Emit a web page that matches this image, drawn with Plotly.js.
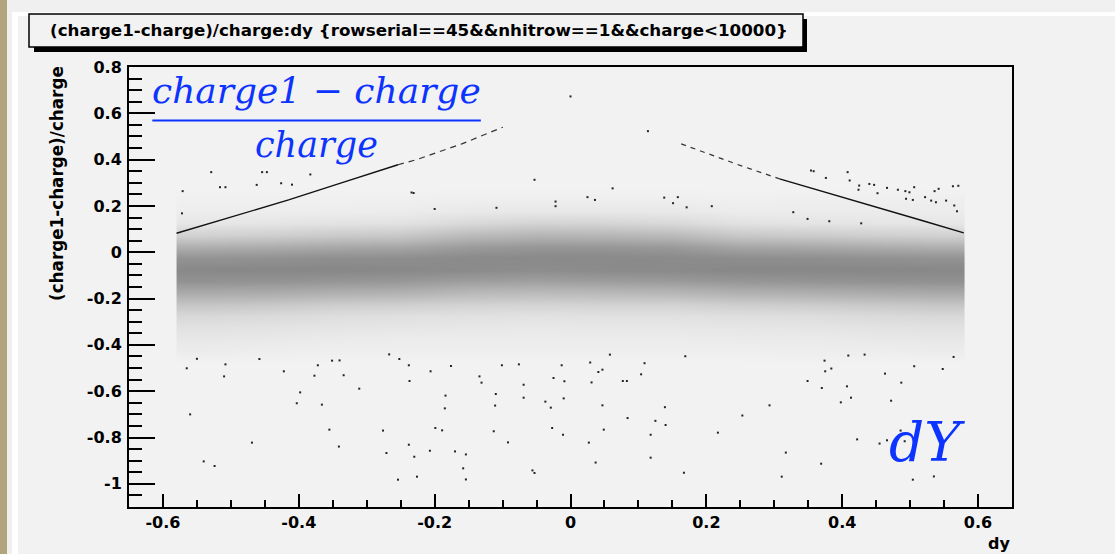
<!DOCTYPE html>
<html>
<head>
<meta charset="utf-8">
<script src="https://cdn.plot.ly/plotly-3.0.1.min.js"></script>
<style>
  html, body { margin: 0; padding: 0; background: #f0f0f0; width: 1115px; height: 554px; overflow: hidden; }
  #wrap { position: relative; width: 1115px; height: 554px; }
  .deco { position: absolute; }
  #chart { position: absolute; left: 0; top: 0; width: 1115px; height: 554px; }
</style>
</head>
<body>
<div id="wrap">
  <div class="deco" style="left:0;top:0;width:7px;height:554px;background:#b1a57d;"></div>
  <div class="deco" style="left:12px;top:12px;width:1103px;height:542px;background:#f2f2f2;"></div>
  <div class="deco" style="left:12px;top:12px;width:1103px;height:4px;background:#ffffff;"></div>
  <div class="deco" style="left:12px;top:12px;width:6px;height:542px;background:#ffffff;"></div>
  <div id="chart"></div>
</div>
<script>
// ---------------- data ----------------
// Dense band of (dy, (charge1-charge)/charge) points, given as estimated relative density per bin
const bandXEdges = [-0.58, -0.5, -0.4, -0.3, -0.2, -0.1, 0, 0.1, 0.2, 0.3, 0.4, 0.5, 0.58];
const bandYEdges = [-0.5, -0.45, -0.4, -0.35, -0.3, -0.25, -0.2, -0.15, -0.1, -0.05, 0, 0.05, 0.1, 0.15, 0.2, 0.25, 0.3];
const bandDensity = [
  [0, 0, 0, 0, 0, 0, 0, 0, 0, 0, 0, 0],
  [5, 4, 3, 3, 3, 3, 3, 3, 3, 4, 4, 5],
  [9, 8, 6, 5, 5, 5, 5, 5, 6, 6, 8, 9],
  [14, 13, 11, 10, 9, 8, 9, 9, 10, 11, 13, 14],
  [23, 21, 18, 16, 15, 14, 15, 15, 17, 18, 21, 23],
  [40, 38, 33, 31, 28, 27, 28, 28, 32, 34, 37, 40],
  [63, 62, 58, 56, 50, 48, 50, 52, 57, 59, 62, 64],
  [85, 84, 82, 80, 74, 72, 75, 77, 81, 83, 85, 86],
  [94, 95, 95, 94, 92, 90, 92, 93, 95, 95, 95, 94],
  [84, 85, 88, 89, 92, 93, 93, 92, 89, 88, 86, 84],
  [58, 60, 64, 66, 76, 80, 80, 77, 66, 64, 60, 57],
  [28, 30, 34, 36, 48, 53, 52, 48, 36, 33, 30, 28],
  [10, 11, 13, 14, 22, 27, 26, 22, 14, 12, 11, 10],
  [4, 4, 4, 5, 8, 9, 9, 8, 5, 5, 5, 5],
  [2, 2, 2, 2, 3, 3, 3, 3, 2, 3, 3, 3],
  [0, 0, 0, 0, 0, 0, 0, 0, 0, 0, 0, 0]
];

// Individual sparse points (outside the dense band)
const sparseX = [
  -0.565, -0.55, -0.508, -0.510, -0.422, -0.377, -0.372, -0.398, -0.403, -0.366, -0.334, -0.311,
  -0.56, -0.469, -0.54, -0.524, -0.355, -0.341, -0.276, -0.271, -0.238, -0.230, -0.254, -0.226,
  -0.199, -0.189, -0.207, -0.170, -0.154, -0.158, -0.154, -0.184, -0.185, -0.237, -0.238, -0.206,
  -0.176, -0.134, -0.131, -0.110, -0.111, -0.113, -0.092, -0.069, -0.069, -0.037, -0.029, -0.027,
  -0.011, -0.056, -0.053, -0.025, -0.009, -0.010, -0.013, -0.076, -0.101, -0.267, -0.252, -0.458,
  -0.340, -0.351,
  0.029, 0.041, 0.047, 0.031, 0.077, 0.083, 0.104, 0.109, 0.058, 0.047, 0.084, 0.049,
  0.027, 0.037, 0.139, 0.125, 0.140, 0.118, 0.118, 0.167, 0.169, 0.217, 0.253, 0.293,
  0.317, 0.311, 0.369, 0.349, 0.370, 0.375, 0.384, 0.374, 0.407, 0.413, 0.398, 0.422,
  0.455, 0.466, 0.486, 0.492, 0.463, 0.487, 0.472, 0.506, 0.548, 0.504, 0.535, 0.564,
  0.433, 0.409,
  0.0, 0.114, -0.053, -0.234, 0.062, 0.025, 0.036, 0.138, 0.158, 0.208, -0.022, -0.022,
  0.151, 0.171, -0.2, -0.109,
  -0.529, -0.454, -0.447, -0.516, -0.508, -0.462, -0.571, -0.426, -0.41, -0.383, -0.231, -0.572,
  0.354, 0.358, 0.376, 0.408, 0.411, 0.425, 0.424, 0.44, 0.447, 0.452, 0.466, 0.482,
  0.493, 0.499, 0.506, 0.494, 0.504, 0.522, 0.531, 0.536, 0.542, 0.563, 0.571, 0.565,
  0.569, 0.538, 0.553, 0.328, 0.349, 0.381, 0.428
];
const sparseY = [
  -0.501, -0.46, -0.484, -0.536, -0.514, -0.533, -0.488, -0.605, -0.652, -0.658, -0.531, -0.589,
  -0.70, -0.822, -0.903, -0.923, -0.766, -0.839, -0.770, -0.867, -0.831, -0.883, -0.982, -0.969,
  -0.759, -0.769, -0.857, -0.860, -0.873, -0.933, -0.981, -0.619, -0.674, -0.556, -0.488, -0.514,
  -0.491, -0.536, -0.563, -0.612, -0.662, -0.773, -0.821, -0.572, -0.628, -0.645, -0.671, -0.759,
  -0.788, -0.942, -0.953, -0.543, -0.557, -0.631, -0.488, -0.484, -0.488, -0.441, -0.461, -0.461,
  -0.467, -0.468,
  -0.476, -0.517, -0.507, -0.562, -0.556, -0.556, -0.527, -0.479, -0.442, -0.661, -0.716, -0.766,
  -0.822, -0.908, -0.669, -0.728, -0.746, -0.788, -0.887, -0.952, -0.449, -0.779, -0.705, -0.661,
  -0.865, -0.969, -0.913, -0.556, -0.586, -0.514, -0.502, -0.468, -0.579, -0.628, -0.648, -0.808,
  -0.826, -0.812, -0.770, -0.816, -0.524, -0.563, -0.641, -0.492, -0.504, -0.982, -0.968, -0.452,
  -0.442, -0.446,
  0.673, 0.523, 0.313, 0.258, 0.276, 0.238, 0.226, 0.236, 0.238, 0.199, 0.219, 0.199,
  0.212, 0.194, 0.187, 0.192,
  0.346, 0.346, 0.346, 0.281, 0.281, 0.291, 0.264, 0.298, 0.292, 0.336, 0.256, 0.168,
  0.353, 0.35, 0.321, 0.346, 0.31, 0.288, 0.27, 0.295, 0.291, 0.255, 0.278, 0.27,
  0.264, 0.259, 0.281, 0.231, 0.226, 0.238, 0.223, 0.264, 0.274, 0.285, 0.287, 0.202,
  0.177, 0.216, 0.223, 0.173, 0.144, 0.134, 0.125
];

// The two thin diagonal streaks of points
const leftStreakX = [-0.58, -0.495, -0.415, -0.335, -0.254];
const leftStreakY = [0.082, 0.155, 0.226, 0.302, 0.378];
const leftStreakSparseX = [-0.254, -0.2265, -0.16, -0.0996];
const leftStreakSparseY = [0.378, 0.400, 0.468, 0.540];
const rightStreakSparseX = [0.163, 0.245, 0.3078];
const rightStreakSparseY = [0.468, 0.380, 0.317];
const rightStreakX = [0.3078, 0.38, 0.455, 0.52, 0.579];
const rightStreakY = [0.317, 0.254, 0.190, 0.135, 0.084];

// Axis ticks and labels
const xTickVals = [-0.6, -0.4, -0.2, 0, 0.2, 0.4, 0.6];
const xTickText = ["-0.6", "-0.4", "-0.2", "0", "0.2", "0.4", "0.6"];
const yTickVals = [0.8, 0.6, 0.4, 0.2, 0, -0.2, -0.4, -0.6, -0.8, -1];
const yTickText = ["0.8", "0.6", "0.4", "0.2", "0", "-0.2", "-0.4", "-0.6", "-0.8", "-1"];

const titleText = "(charge1-charge)/charge:dy {rowserial==45&&nhitrow==1&&charge<10000}";
const xTitleText = "dy";
const yTitleText = "(charge1-charge)/charge";
const numeratorText = "charge1 \u2212 charge";
const denominatorText = "charge";
const dYText = "dY";

// ---------------- layout helpers ----------------
const W = 1115, H = 554;
const M = { l: 129, r: 103, t: 67, b: 47 };
const PW = W - M.l - M.r, PH = H - M.t - M.b;
const px = v => (v - M.l) / PW;            // pixel x -> paper x
const py = v => (H - M.b - v) / PH;        // pixel y -> paper y

const boldFont = { family: "DejaVu Sans", size: 16, color: "#000", weight: "bold" };
const mathBlue = "#0d33ff";
const mathFont = (s) => ({ family: "DejaVu Serif", size: s, color: mathBlue, style: "italic" });

const traces = [
  {
    type: "heatmap",
    x: bandXEdges, y: bandYEdges, z: bandDensity,
    zmin: 0, zmax: 100, zsmooth: "best",
    colorscale: [[0, "rgb(242,242,242)"], [0.05, "rgb(236,236,236)"], [1, "rgb(130,130,130)"]],
    showscale: false, hoverinfo: "skip"
  },
  {
    type: "scatter", mode: "markers", x: sparseX, y: sparseY,
    marker: { size: 2, color: "#222", symbol: "square", line: { width: 0 } },
    hoverinfo: "skip"
  },
  {
    type: "scatter", mode: "lines", x: leftStreakX, y: leftStreakY,
    line: { color: "#111", width: 1.4 }, hoverinfo: "skip"
  },
  {
    type: "scatter", mode: "lines", x: leftStreakSparseX, y: leftStreakSparseY,
    line: { color: "#333", width: 1.2, dash: "6px,5px" }, hoverinfo: "skip"
  },
  {
    type: "scatter", mode: "lines", x: rightStreakSparseX, y: rightStreakSparseY,
    line: { color: "#333", width: 1.2, dash: "5px,5px" }, hoverinfo: "skip"
  },
  {
    type: "scatter", mode: "lines", x: rightStreakX, y: rightStreakY,
    line: { color: "#111", width: 1.4 }, hoverinfo: "skip"
  }
];

const layout = {
  width: W, height: H,
  margin: M,
  paper_bgcolor: "rgba(0,0,0,0)",
  plot_bgcolor: "rgba(0,0,0,0)",
  showlegend: false,
  xaxis: {
    range: [-0.65, 0.65], showgrid: false, zeroline: false,
    showline: true, linecolor: "#000", linewidth: 2, mirror: true,
    ticks: "inside", ticklen: 13, tickwidth: 2, tickcolor: "#000",
    tickmode: "array", tickvals: xTickVals, ticktext: xTickText,
    tickfont: boldFont, ticklabelstandoff: 0,
    minor: { tickmode: "linear", tick0: 0, dtick: 0.05, ticks: "inside", ticklen: 7, tickwidth: 2, tickcolor: "#000", showgrid: false }
  },
  yaxis: {
    range: [-1.1, 0.8], showgrid: false, zeroline: false,
    showline: true, linecolor: "#000", linewidth: 2, mirror: true,
    ticks: "inside", ticklen: 26, tickwidth: 2, tickcolor: "#000",
    tickmode: "array", tickvals: yTickVals, ticktext: yTickText,
    tickfont: boldFont, ticklabelstandoff: 2,
    minor: { tickmode: "linear", tick0: 0, dtick: 0.05, ticks: "inside", ticklen: 13, tickwidth: 2, tickcolor: "#000", showgrid: false }
  },
  shapes: [
    // title box shadow and box
    { type: "rect", xref: "paper", yref: "paper", x0: px(34), x1: px(807), y0: py(52), y1: py(19),
      fillcolor: "#000", line: { width: 0 } },
    { type: "rect", xref: "paper", yref: "paper", x0: px(29), x1: px(803), y0: py(47), y1: py(14),
      fillcolor: "#f2f2f2", line: { color: "#000", width: 1.5 } },
    // fraction bar of the formula
    { type: "line", xref: "x", yref: "y", x0: -0.6157, x1: -0.132, y0: 0.569, y1: 0.569,
      line: { color: mathBlue, width: 2 } }
  ],
  annotations: [
    { xref: "paper", yref: "paper", x: px(48), y: py(30.5), xanchor: "left", yanchor: "middle",
      text: titleText, showarrow: false, font: { family: "DejaVu Sans", size: 16.7, color: "#000", weight: "bold" } },
    { xref: "paper", yref: "paper", x: px(57), y: py(184), xanchor: "center", yanchor: "middle",
      text: yTitleText, textangle: -90, showarrow: false, font: { family: "DejaVu Sans", size: 16.8, color: "#000", weight: "bold" } },
    { xref: "paper", yref: "paper", x: px(999), y: py(543), xanchor: "center", yanchor: "middle",
      text: xTitleText, showarrow: false, font: boldFont },
    { xref: "x", yref: "y", x: -0.374, y: 0.698, xanchor: "center", yanchor: "middle",
      text: numeratorText, showarrow: false, font: mathFont(36) },
    { xref: "x", yref: "y", x: -0.374, y: 0.462, xanchor: "center", yanchor: "middle",
      text: denominatorText, showarrow: false, font: mathFont(35) },
    { xref: "x", yref: "y", x: 0.5247, y: -0.818, xanchor: "center", yanchor: "middle",
      text: dYText, showarrow: false, font: mathFont(55) }
  ]
};

Plotly.newPlot("chart", traces, layout, { displayModeBar: false, staticPlot: true });
</script>
</body>
</html>
